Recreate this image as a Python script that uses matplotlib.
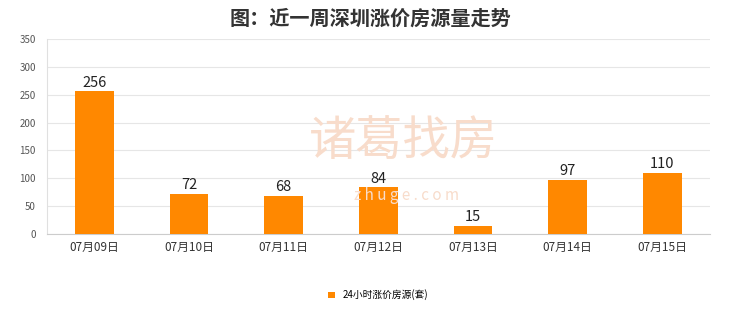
import matplotlib.pyplot as plt
import numpy as np

plt.rcParams['font.family'] = ['Noto Sans CJK SC', 'DejaVu Sans']

dates = ['07月09日', '07月10日', '07月11日', '07月12日', '07月13日', '07月14日', '07月15日']
counts = [256, 72, 68, 84, 15, 97, 110]
series_name = '24小时涨价房源(套)'
y_ticks = [0, 50, 100, 150, 200, 250, 300, 350]

fig = plt.figure(figsize=(7.4, 3.12), dpi=100)
ax = fig.add_axes([0.0635, 0.25, 0.8955, 0.625])

x = np.arange(len(dates))
ax.bar(x, counts, width=0.41, color='#ff8800', label=series_name, zorder=3)
for xi, v in zip(x, counts):
    ax.text(xi, v + 3, str(v), ha='center', va='bottom', fontsize=10.5, color='#222222', zorder=4)

ax.set_xlim(-0.5, len(dates) - 0.5)
ax.set_ylim(0, 350)
ax.set_yticks(y_ticks)
ax.set_xticks(x)
ax.set_xticklabels(dates, fontsize=8.5, color='#333333')
ax.tick_params(axis='y', labelsize=7, colors='#555555', length=0, pad=8)
ax.tick_params(axis='x', length=0, pad=5)
ax.yaxis.grid(True, color='#e6e6e6', linewidth=0.8, zorder=0)
for s in ['top', 'right']:
    ax.spines[s].set_visible(False)
ax.spines['left'].set_color('#e0e0e0')
ax.spines['bottom'].set_color('#cccccc')

# faint watermark, kept clear of the value labels
fig.text(0.545, 0.545, '诸葛找房', fontsize=34, color='#f8dccb', ha='center', va='center', zorder=0)
fig.text(0.55, 0.375, 'z h u g e . c o m', fontsize=11, color='#f8dccb', ha='center', va='center', zorder=0)

fig.suptitle('图：近一周深圳涨价房源量走势', y=0.975, fontsize=14.5, fontweight='bold', color='#333333')

ax.legend(loc='upper center', bbox_to_anchor=(0.5, -0.24), frameon=False, fontsize=7,
          handlelength=0.7, handleheight=0.7, handletextpad=0.8)

fig.savefig('out.png', dpi=100)
